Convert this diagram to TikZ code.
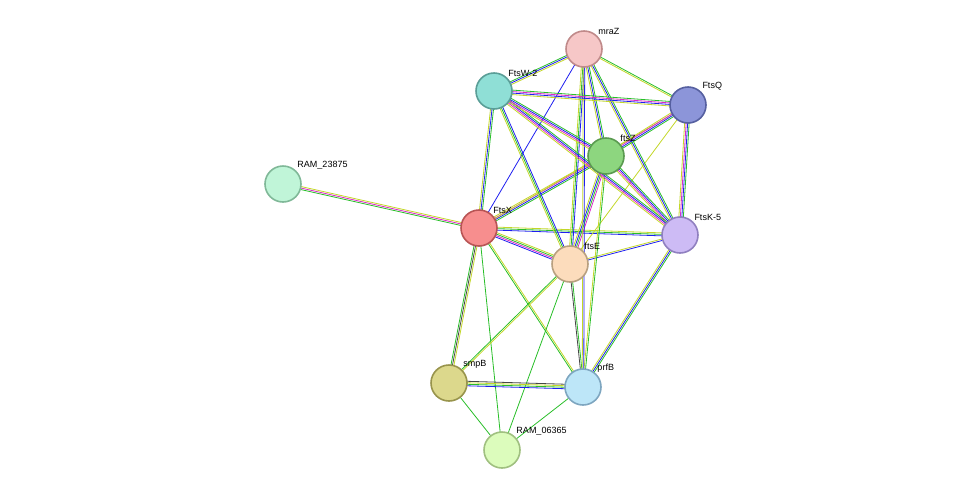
\documentclass[tikz,border=0pt]{standalone}
\usepackage{fontspec}
\setmainfont{Liberation Sans}
\usetikzlibrary{calc,backgrounds}
\definecolor{cgreen}{RGB}{40,190,40}
\definecolor{cblue}{RGB}{30,30,240}
\definecolor{cyel}{RGB}{195,215,40}
\definecolor{cmag}{RGB}{220,40,200}
\definecolor{cblack}{RGB}{70,70,70}
% node fills / strokes
\definecolor{mraZF}{RGB}{246,199,199}\definecolor{mraZD}{RGB}{192,138,138}
\definecolor{ftsWF}{RGB}{143,223,214}\definecolor{ftsWD}{RGB}{90,158,151}
\definecolor{ftsQF}{RGB}{140,149,217}\definecolor{ftsQD}{RGB}{86,96,160}
\definecolor{ftsZF}{RGB}{141,214,127}\definecolor{ftsZD}{RGB}{90,154,80}
\definecolor{ramtF}{RGB}{192,245,216}\definecolor{ramtD}{RGB}{128,184,152}
\definecolor{ftsXF}{RGB}{247,142,142}\definecolor{ftsXD}{RGB}{184,84,84}
\definecolor{ftsKF}{RGB}{205,187,245}\definecolor{ftsKD}{RGB}{144,128,192}
\definecolor{ftsEF}{RGB}{252,220,188}\definecolor{ftsED}{RGB}{184,160,128}
\definecolor{smpBF}{RGB}{220,216,140}\definecolor{smpBD}{RGB}{152,148,76}
\definecolor{prfBF}{RGB}{189,230,248}\definecolor{prfBD}{RGB}{126,166,192}
\definecolor{ramsF}{RGB}{220,252,188}\definecolor{ramsD}{RGB}{160,192,128}
\tikzset{
  prot/.style={circle, minimum size=36pt, inner sep=0pt, line width=1.6pt, fill=#1F, draw=#1D},
  lbl/.style={font=\fontsize{9}{10}\selectfont, inner sep=1pt}
}
% parallel coloured strands between two nodes
\newcommand\edge[4]{%
  \foreach \c [count=\i] in {#4}{%
    \pgfmathsetmacro\o{(\i-(#3+1)/2)*1.5}
    \draw[\c, line width=.8pt] ($(#1)!\o pt!90:(#2)$) -- ($(#2)!\o pt!-90:(#1)$);
  }}
\begin{document}
\begin{tikzpicture}[x=1pt,y=-1pt]
  \useasboundingbox (0,0) rectangle (975,496);
  %proteins
  \node[prot=mraZ, label={[lbl]45:mraZ}] (mraZ) at (584,49) {};
  \node[prot=ftsW, label={[lbl]45:FtsW-2}] (ftsW) at (494,91) {};
  \node[prot=ftsQ, label={[lbl]45:FtsQ}] (ftsQ) at (688,105) {};
  \node[prot=ftsZ, label={[lbl]45:ftsZ}] (ftsZ) at (606,156) {};
  \node[prot=ramt, label={[lbl]45:RAM\_23875}] (ram2) at (283,184) {};
  \node[prot=ftsX, label={[lbl]45:FtsX}] (ftsX) at (479,228) {};
  \node[prot=ftsK, label={[lbl]45:FtsK-5}] (ftsK) at (680,235) {};
  \node[prot=ftsE, label={[lbl]45:ftsE}] (ftsE) at (570,264) {};
  \node[prot=smpB, label={[lbl]45:smpB}] (smpB) at (449,383) {};
  \node[prot=prfB, label={[lbl]45:prfB}] (prfB) at (583,387) {};
  \node[prot=rams, label={[lbl]45:RAM\_06365}] (ram0) at (502,450) {};
  %interactions
  \begin{scope}[on background layer]
    \edge{ram2}{ftsX}{3}{cgreen,cmag,cyel}
    \edge{ftsX}{smpB}{3}{cgreen,cblack,cyel}
    \edge{ftsX}{ram0}{1}{cgreen}
    \edge{ftsX}{prfB}{2}{cgreen,cyel}
    \edge{ftsX}{ftsE}{4}{cblue,cmag,cgreen,cyel}
    \edge{ftsX}{ftsK}{3}{cblue,cgreen,cyel}
    \edge{ftsX}{ftsZ}{4}{cgreen,cblue,cmag,cyel}
    \edge{ftsX}{ftsW}{3}{cgreen,cblue,cyel}
    \edge{ftsX}{mraZ}{1}{cblue}
    \edge{ftsX}{ftsQ}{1}{cyel}
    \edge{ftsE}{smpB}{2}{cgreen,cyel}
    \edge{ftsE}{prfB}{2}{cblack,cgreen}
    \edge{ftsE}{ram0}{1}{cgreen}
    \edge{ftsE}{ftsK}{2}{cblue,cyel}
    \edge{ftsE}{ftsZ}{4}{cmag,cgreen,cblue,cyel}
    \edge{ftsE}{ftsW}{3}{cblue,cgreen,cyel}
    \edge{ftsE}{mraZ}{3}{cblue,cgreen,cyel}
    \edge{ftsE}{ftsQ}{1}{cyel}
    \edge{smpB}{prfB}{4}{cblue,cgreen,cyel,cblack}
    \edge{smpB}{ram0}{1}{cgreen}
    \edge{prfB}{ram0}{1}{cgreen}
    \edge{prfB}{ftsK}{3}{cgreen,cblue,cyel}
    \edge{prfB}{ftsZ}{2}{cgreen,cyel}
    \edge{prfB}{mraZ}{2}{cblue,cyel}
    \edge{ftsK}{ftsZ}{4}{cgreen,cblue,cmag,cyel}
    \edge{ftsK}{ftsQ}{4}{cgreen,cblue,cmag,cyel}
    \edge{ftsK}{mraZ}{3}{cgreen,cblue,cyel}
    \edge{ftsK}{ftsW}{4}{cgreen,cblue,cmag,cyel}
    \edge{ftsZ}{ftsQ}{4}{cgreen,cblue,cmag,cyel}
    \edge{ftsZ}{mraZ}{3}{cgreen,cblue,cyel}
    \edge{ftsZ}{ftsW}{4}{cgreen,cblue,cmag,cyel}
    \edge{ftsQ}{mraZ}{2}{cgreen,cyel}
    \edge{ftsQ}{ftsW}{4}{cgreen,cmag,cblue,cyel}
    \edge{mraZ}{ftsW}{3}{cgreen,cblue,cyel}
  \end{scope}
\end{tikzpicture}
\end{document}
